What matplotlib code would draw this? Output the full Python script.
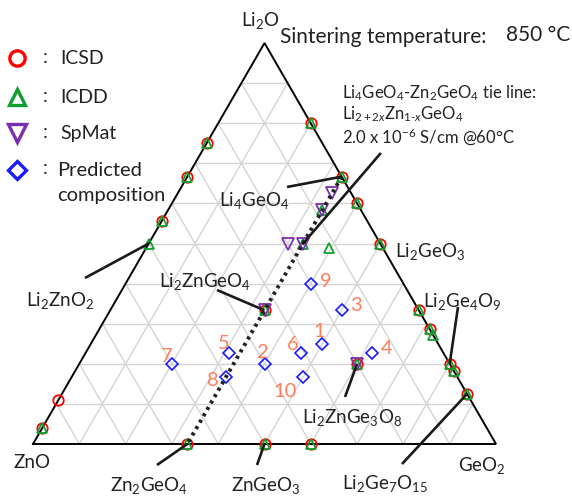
import matplotlib
import numpy as np

matplotlib.use("Agg")
import matplotlib.pyplot as plt

plt.rcParams["font.family"] = ["Lato", "DejaVu Sans"]
plt.rcParams["mathtext.fontset"] = "custom"
plt.rcParams["mathtext.rm"] = "Lato"
plt.rcParams["mathtext.it"] = "Lato:italic"

# compositions as (Li2O fraction, GeO2 fraction); ZnO = rest
icsd = [
    (0.75, 0.0), (2 / 3, 0.0), (5 / 9, 0.0), (0.11, 0.0), (0.04, 0.0),
    (0.8, 0.2), (2 / 3, 1 / 3), (0.6, 0.4), (0.5, 0.5), (1 / 3, 2 / 3),
    (2 / 7, 5 / 7), (0.2, 0.8), (2 / 11, 9 / 11), (1 / 8, 7 / 8),
    (0.0, 1 / 3), (0.0, 0.5), (0.0, 0.6),
    (1 / 3, 1 / 3), (0.2, 0.6),
]
icdd = [
    (0.75, 0.0), (2 / 3, 0.0), (5 / 9, 0.0), (0.5, 0.0), (0.04, 0.0),
    (0.8, 0.2), (2 / 3, 1 / 3), (0.6, 0.4), (0.5, 0.5), (1 / 3, 2 / 3),
    (2 / 7, 5 / 7), (3 / 11, 8 / 11), (0.2, 0.8), (2 / 11, 9 / 11), (1 / 8, 7 / 8),
    (0.0, 1 / 3), (0.0, 0.5), (0.0, 0.6),
    (1 / 3, 1 / 3), (0.2, 0.6), (7 / 12, 1 / 3), (0.5, 1 / 3), (0.49, 0.395),
]
spmat = [
    (0.625, 1 / 3), (7 / 12, 1 / 3), (0.5, 0.3), (0.5, 1 / 3),
    (1 / 3, 1 / 3), (0.2, 0.6),
]
predicted_ids = ["1", "2", "3", "4", "5", "6", "7", "8", "9", "10"]
predicted = [
    (0.25, 0.5), (0.2, 0.4), (1 / 3, 0.5), (0.228, 0.618), (0.228, 0.309),
    (0.228, 0.465), (0.2, 0.2), (1 / 6, 1 / 3), (0.4, 0.4), (1 / 6, 0.5),
]

tie_ends = [(2 / 3, 1 / 3), (0.0, 1 / 3)]

# label text, composition it points to
compound_labels = {
    "Li$_4$GeO$_4$": (2 / 3, 1 / 3),
    "Li$_2$ZnO$_2$": (0.5, 0.0),
    "Li$_2$ZnGeO$_4$": (1 / 3, 1 / 3),
    "Zn$_2$GeO$_4$": (0.0, 1 / 3),
    "ZnGeO$_3$": (0.0, 0.5),
    "Li$_2$ZnGe$_3$O$_8$": (0.2, 0.6),
    "Li$_2$Ge$_4$O$_9$": (0.2, 0.8),
    "Li$_2$Ge$_7$O$_{15}$": (1 / 8, 7 / 8),
}

H = np.sqrt(3) / 2
SCALE = 463.0  # pixels per unit edge
X0, Y0 = 33.0, 444.0  # ZnO corner in pixels
TXT = "#222222"
LABEL_FS = 13.5


def tern(points):
    pts = np.asarray(points, dtype=float).reshape(-1, 2)
    a, c = pts[:, 0], pts[:, 1]
    return c + a / 2, a * H


def px(x, y):
    return (x - X0) / SCALE, (Y0 - y) / SCALE


fig = plt.figure(figsize=(5.72, 4.96), dpi=100)
ax = fig.add_axes([0, 0, 1, 1])
ax.set_xlim(-X0 / SCALE, (572 - X0) / SCALE)
ax.set_ylim(-(496 - Y0) / SCALE, Y0 / SCALE)
ax.set_aspect("equal")
ax.axis("off")

# grid
grid_kw = dict(color="#d4d4d4", lw=1.0, zorder=1)
for f in np.arange(1, 10) / 10:
    gx, gy = tern([(f, 0), (f, 1 - f)])
    ax.plot(gx, gy, **grid_kw)
    gx, gy = tern([(0, f), (1 - f, f)])
    ax.plot(gx, gy, **grid_kw)
    gx, gy = tern([(0, 1 - f), (1 - f, 0)])
    ax.plot(gx, gy, **grid_kw)

bx, by = tern([(0, 0), (0, 1), (1, 0), (0, 0)])
ax.plot(bx, by, color="black", lw=1.4, zorder=2, solid_joinstyle="miter")

mx, my = tern(icsd)
ax.plot(mx, my, "o", ms=7.5, mfc="none", mec="red", mew=1.3, zorder=4)
mx, my = tern(icdd)
ax.plot(mx, my, "^", ms=7.5, mfc="none", mec="#11a030", mew=1.3, zorder=5)
mx, my = tern(spmat)
ax.plot(mx, my, "v", ms=8.5, mfc="none", mec="#7a2fb0", mew=1.3, zorder=6)
mx, my = tern(predicted)
ax.plot(mx, my, "D", ms=6.2, mfc="none", mec="#1a1aff", mew=1.2, zorder=6)

num_offsets = {
    "1": (-3, 12), "2": (-2, 11), "3": (14, 5), "4": (15, 4), "5": (-5, 9),
    "6": (-8, 8), "7": (-5, 7), "8": (-13, -3), "9": (15, 2), "10": (-18, -14),
}
for lab, (x, y) in zip(predicted_ids, zip(*tern(predicted))):
    ax.annotate(lab, (x, y), xytext=num_offsets[lab], textcoords="offset pixels",
                ha="center", va="center", fontsize=14.5, color="#ff7f5a", zorder=7)

tx, ty = tern(tie_ends)
ax.plot(tx, ty, color="#222222", lw=2.8, ls=(0, (0.8, 1.1)), zorder=8)

# leader lines and labels (pixel layout)
leaders = {
    "Li$_4$GeO$_4$": ((287, 187), (254, 200)),
    "Li$_2$ZnO$_2$": ((85, 278), (60, 300)),
    "Li$_2$ZnGeO$_4$": ((217, 290), (205, 281)),
    "Zn$_2$GeO$_4$": ((157, 465), (149, 485)),
    "ZnGeO$_3$": ((257, 465), (266, 485)),
    "Li$_2$ZnGe$_3$O$_8$": ((345, 397), (352, 418)),
    "Li$_2$Ge$_4$O$_9$": ((458, 307), (462, 301)),
    "Li$_2$Ge$_7$O$_{15}$": ((402, 464), (385, 484)),
}
for name, comp in compound_labels.items():
    (sx, sy), (lx, ly) = leaders[name]
    ex, ey = tern([comp])
    x1, y1 = px(sx, sy)
    ax.plot([x1, ex[0]], [y1, ey[0]], color="#1a1a1a", lw=1.9, zorder=9,
            solid_capstyle="butt")
    ax.text(*px(lx, ly), name, ha="center", va="center", fontsize=LABEL_FS,
            color=TXT, zorder=10)

# tie line annotation leader
ex, ey = tern([(0.5, 1 / 3)])
x1, y1 = px(380, 154)
ax.plot([x1, ex[0]], [y1, ey[0]], color="#1a1a1a", lw=1.9, zorder=9)

corner_text = [
    ("Li$_2$O", (260, 20)), ("ZnO", (32, 463)), ("GeO$_2$", (482, 465)),
    ("Li$_2$GeO$_3$", (430, 251)),
]
for t, (lx, ly) in corner_text:
    ax.text(*px(lx, ly), t, ha="center", va="center", fontsize=LABEL_FS, color=TXT)

ax.text(*px(280, 37), "Sintering temperature:", ha="left", va="center",
        fontsize=15, color=TXT)
ax.text(*px(506, 35), "850 °C", ha="left", va="center", fontsize=15, color=TXT)

ax.text(*px(342, 93), "Li$_4$GeO$_4$-Zn$_2$GeO$_4$ tie line:", ha="left", va="center",
        fontsize=12, color=TXT)
ax.text(*px(342, 114), "Li$_{2+2x}$Zn$_{1\\text{-}x}$GeO$_4$", ha="left", va="center",
        fontsize=12, color=TXT)
ax.text(*px(342, 137), "2.0 x 10$^{-6}$ S/cm @60°C", ha="left", va="center",
        fontsize=12, color=TXT)

# legend
leg_items = [
    ("o", "red", "ICSD", 58, 11),
    ("^", "#11a030", "ICDD", 97, 12),
    ("v", "#7a2fb0", "SpMat", 133, 13),
    ("D", "#1a1aff", "Predicted\ncomposition", 170, 9),
]
for mk, col, lab, ly, ms in leg_items:
    ax.plot(*px(17, ly), mk, ms=ms, mfc="none", mec=col, mew=2.4, clip_on=False)
    ax.text(*px(45, ly - 1), ":", ha="center", va="center", fontsize=14, color=TXT)
    if "\n" in lab:
        first, second = lab.split("\n")
        ax.text(*px(57, ly), first, ha="left", va="center", fontsize=14.5, color=TXT)
        ax.text(*px(57, ly + 25), second, ha="left", va="center", fontsize=14.5,
                color=TXT)
    else:
        ax.text(*px(60, ly), lab, ha="left", va="center", fontsize=14, color=TXT)

fig.savefig("out.png", dpi=100)
